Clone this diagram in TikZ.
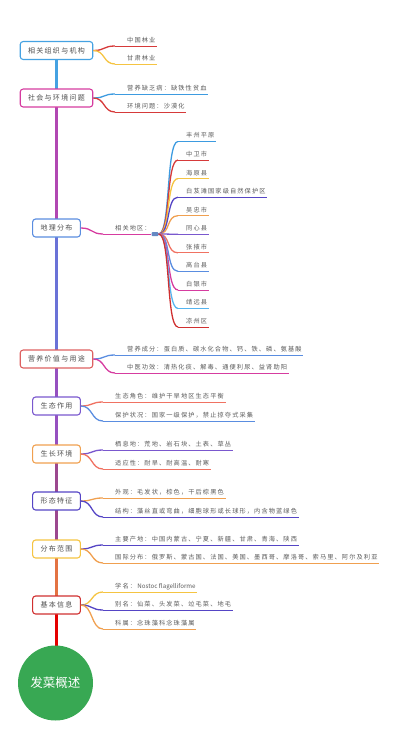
\documentclass[tikz,border=0pt]{standalone}
\usepackage{fontspec}
\newfontfamily\cjk{Noto Sans CJK SC}
\newfontfamily\cjksp[LetterSpace=18]{Noto Sans CJK SC}
\newcommand{\leaffont}{\cjksp\fontsize{6.2}{7}\selectfont}
\newcommand{\topicfont}{\cjksp\fontsize{7}{8}\selectfont}

\definecolor{cBlue}{HTML}{45A2E2}
\definecolor{cSky}{HTML}{3D9BE0}
\definecolor{cLight}{HTML}{55B4F0}
\definecolor{cMid}{HTML}{5A8DE0}
\definecolor{cMag}{HTML}{D63CA0}
\definecolor{cRed}{HTML}{D63A3A}
\definecolor{cDark}{HTML}{D03030}
\definecolor{cSalmon}{HTML}{F07262}
\definecolor{cYellow}{HTML}{F5C442}
\definecolor{cOrange}{HTML}{F0A050}
\definecolor{cIndigo}{HTML}{5545C5}
\definecolor{cPurple}{HTML}{7A58CE}
\definecolor{cGreen}{HTML}{38A853}
\definecolor{txtgray}{HTML}{4D4D4D}
\definecolor{leafgray}{HTML}{5A5A5A}

% branch from a topic to a leaf: curve, then underline
\newcommand{\leafline}[4]{%
  \draw[line width=1.3pt, #3] (#1) .. controls +(12,0) and +(-12,0) .. ([xshift=-#4]#2.south west);
  \draw[line width=0.7pt, #3] ([xshift=-#4]#2.south west) -- ([xshift=1.5pt]#2.south east);}

\tikzset{
  topic/.style={draw=#1, fill=white, rounded corners=3pt, line width=1.1pt,
    inner xsep=8pt, inner ysep=0pt, minimum height=18pt, text=txtgray, font=\topicfont},
  leaf/.style={anchor=south west, inner xsep=0pt, inner ysep=3pt,
    text height=5.4pt, text depth=0.4pt, text=leafgray, font=\leaffont},
  trunk/.style={line width=2.6pt},
}

\begin{document}
\begin{tikzpicture}[x=1pt, y=-1pt]
    \useasboundingbox (0,0) rectangle (400,756);

    % Trunk
    \draw[trunk, cBlue] (56.5,50.5) -- (56.5,98);
    \draw[trunk, color=cMag!60!cPurple] (56.5,98) -- (56.5,228);
    \draw[trunk, color=cMid!50!cPurple] (56.5,228) -- (56.5,359);
    \draw[trunk, color=cPurple!70!cMag] (56.5,359) -- (56.5,454);
    \draw[trunk, color=cPurple!60!cDark] (56.5,454) -- (56.5,549);
    \draw[trunk, color=cOrange!60!cDark] (56.5,549) -- (56.5,605);
    \draw[line width=3.6pt, red!90!black] (56.5,605) -- (56.5,650);

    % Root
    \node[circle, fill=cGreen, minimum size=75pt, inner sep=0pt, text=white,
          font=\cjk\fontsize{12.5}{14}\selectfont] (root) at (55.5,683) {发菜概述};

    % Topics
    \node[topic=cBlue]   (org)   at (56.5,50.5) {相关组织与机构};
    \node[topic=cMag]    (soc)   at (56.5,98)   {社会与环境问题};
    \node[topic=cMid]    (geo)   at (56.5,228)  {地理分布};
    \node[topic=cRed!80!white] (nut) at (56.5,359) {营养价值与用途};
    \node[topic=cPurple] (eco)   at (56.5,406)  {生态作用};
    \node[topic=cOrange] (env)   at (56.5,454)  {生长环境};
    \node[topic=cIndigo] (mor)   at (56.5,501)  {形态特征};
    \node[topic=cYellow] (dist)  at (56.5,549)  {分布范围};
    \node[topic=cDark]   (basic) at (56.5,605)  {基本信息};

    % Leaves
    \node[leaf] (o1) at (127,46)  {中国林业};
    \node[leaf] (o2) at (127,64)  {甘肃林业};
    \leafline{org.east}{o1}{cRed}{12pt}
    \leafline{org.east}{o2}{cYellow}{12pt}

    \node[leaf] (s1) at (127,94)  {营养缺乏病：缺铁性贫血};
    \node[leaf] (s2) at (127,112) {环境问题：沙漠化};
    \leafline{soc.east}{s1}{cSky}{12pt}
    \leafline{soc.east}{s2}{cRed}{12pt}

    \node[leaf] (g0) at (115,234) {相关地区：};
    \node[fill=cMid!70!gray, minimum width=7pt, minimum height=4pt, inner sep=0pt,
          rounded corners=1pt] (hub) at (155,234) {};
    \draw[line width=1.3pt, cMag] (geo.east) .. controls +(12,0) and +(-12,0) .. ([xshift=-12pt]g0.south west);
    \draw[line width=0.7pt, cMag] ([xshift=-12pt]g0.south west) -- (hub.west);
    \foreach \txt/\col [count=\i] in {丰州平原/cSky, 中卫市/cRed, 海原县/cYellow,
        白芨滩国家级自然保护区/cIndigo, 吴忠市/cOrange, 同心县/cPurple, 张掖市/cSalmon,
        高台县/cMid, 白银市/cMag, 靖远县/cLight, 凉州区/cDark} {
        \node[leaf] (g\i) at (186,{122.95+18.55*\i}) {\txt};
        \leafline{hub.east}{g\i}{\col}{8pt}
    }

    \node[leaf] (n1) at (127,355) {营养成分：蛋白质、碳水化合物、钙、铁、磷、氨基酸};
    \node[leaf] (n2) at (127,373) {中医功效：清热化痰、解毒、通便利尿、益肾助阳};
    \leafline{nut.east}{n1}{cMid}{12pt}
    \leafline{nut.east}{n2}{cMag}{12pt}

    \node[leaf] (e1) at (115,402) {生态角色：维护干旱地区生态平衡};
    \node[leaf] (e2) at (115,421) {保护状况：国家一级保护，禁止掠夺式采集};
    \leafline{eco.east}{e1}{cSalmon}{12pt}
    \leafline{eco.east}{e2}{cMid}{12pt}

    \node[leaf] (v1) at (115,450) {栖息地：荒地、岩石块、土表、草丛};
    \node[leaf] (v2) at (115,469) {适应性：耐旱、耐高温、耐寒};
    \leafline{env.east}{v1}{cPurple}{12pt}
    \leafline{env.east}{v2}{cSalmon}{12pt}

    \node[leaf] (m1) at (115,498) {外观：毛发状，棕色，干后棕黑色};
    \node[leaf] (m2) at (115,517) {结构：藻丝直或弯曲，细胞球形或长球形，内含物蓝绿色};
    \leafline{mor.east}{m1}{cOrange}{12pt}
    \leafline{mor.east}{m2}{cIndigo}{12pt}

    \node[leaf] (d1) at (115,545) {主要产地：中国内蒙古、宁夏、新疆、甘肃、青海、陕西};
    \node[leaf] (d2) at (115,563) {国际分布：俄罗斯、蒙古国、法国、美国、墨西哥、摩洛哥、索马里、阿尔及利亚};
    \leafline{dist.east}{d1}{cIndigo}{12pt}
    \leafline{dist.east}{d2}{cOrange}{12pt}

    \node[leaf] (b1) at (115,592) {学名：{\cjk\fontsize{6.2}{7}\selectfont\ Nostoc flagelliforme}};
    \node[leaf] (b2) at (115,610) {别名：仙菜、头发菜、竝毛菜、地毛};
    \node[leaf] (b3) at (115,629) {科属：念珠藻科念珠藻属};
    \leafline{basic.east}{b1}{cYellow}{12pt}
    \leafline{basic.east}{b2}{cIndigo}{12pt}
    \leafline{basic.east}{b3}{cOrange}{12pt}
\end{tikzpicture}
\end{document}
